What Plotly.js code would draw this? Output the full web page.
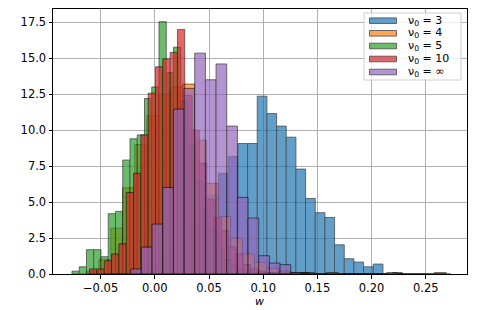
<!DOCTYPE html>
<html>
<head>
<meta charset="utf-8">
<script src="https://cdn.plot.ly/plotly-3.0.1.min.js"></script>
<style>
  html, body { margin: 0; padding: 0; background: #fff; }
  #chart { width: 482px; height: 310px; }
</style>
</head>
<body>
<div id="chart"></div>
<script>
// Series labels
const seriesNames = ['ν<sub>0</sub> = 3', 'ν<sub>0</sub> = 4', 'ν<sub>0</sub> = 5', 'ν<sub>0</sub> = 10', 'ν<sub>0</sub> = ∞'];
const xAxisLabel = '<i>w</i>';

// Histogram bins (30 bins each): first edge and bin width per series
const binStart = [-0.0393, -0.0627, -0.0764, -0.0601, -0.0222];
const binWidth = [0.00892, 0.01105, 0.00669, 0.00675, 0.00984];

// Density heights per bin
const nu3 = [0.1,0.1,0.2,0.4,0.6,1.0,1.6,2.4,3.3,4.5,5.5,7.0,8.17,9.07,9.07,12.36,11.15,10.28,9.51,7.29,5.25,4.26,3.93,2.03,1.06,0.83,0.5,0.69,0,0.1];
const nu4 = [0.2,1.0,3.19,6.0,9.0,11.0,12.5,13.0,13.2,9.3,6.3,4.0,2.5,1.4,0.8,0.4,0.2,0.1,0.1,0,0.1,0,0,0,0,0,0,0,0,0.1];
const nu5 = [0.2,0.5,1.69,1.69,1.2,4.19,4.35,7.92,9.4,9.67,12.2,13.0,17.54,14.0,15.76,12.0,9.0,6.5,4.5,3.0,1.8,1.0,0.6,0.3,0.2,0.1,0.1,0,0,0.1];
const nu10 = [0.35,0.35,0.92,1.39,2.1,5.67,7.0,9.67,12.57,14.4,14.95,15.4,17.0,12.4,10.0,7.7,5.2,3.9,3.0,1.9,1.4,0.65,0.35,0.2,0.1,0.1,0,0,0,0.1];
const nuInf = [0.35,1.87,3.47,6.01,11.46,12.9,15.35,13.5,14.6,10.28,5.32,3.89,1.27,0.76,0.65,0.1,0,0,0,0,0,0,0,0,0.1,0,0,0,0,0];

// Axis ticks
const xTicks = [-0.05, 0.00, 0.05, 0.10, 0.15, 0.20, 0.25];
const yTicks = [0, 2.5, 5, 7.5, 10, 12.5, 15, 17.5];

const heights = [nu3, nu4, nu5, nu10, nuInf];
const colors = ['#1f77b4', '#ff7f0e', '#2ca02c', '#d62728', '#9467bd'];

const W = 482, H = 310;
const M = { l: 53, r: 15, t: 9, b: 36 };
const PW = W - M.l - M.r, PH = H - M.t - M.b;
const px2x = px => (px - M.l) / PW;
const py2y = py => (H - M.b - py) / PH;

const traces = heights.map((h, i) => ({
  type: 'bar',
  name: seriesNames[i],
  x: h.map((_, k) => binStart[i] + binWidth[i] * (k + 0.5)),
  y: h,
  width: binWidth[i],
  marker: { color: colors[i], line: { color: '#000', width: 0.8 } },
  opacity: 0.7,
  hoverinfo: 'skip',
  showlegend: false
}));

// Hand-built legend (matplotlib-style wide patches)
const shapes = [{
  type: 'rect', xref: 'paper', yref: 'paper',
  x0: px2x(364), x1: px2x(461), y0: py2y(80), y1: py2y(13),
  fillcolor: 'rgba(255,255,255,0.8)', line: { color: '#cccccc', width: 1 }, layer: 'above'
}];
const annotations = [];
const rowY = [20.7, 33.3, 46, 59, 72];
seriesNames.forEach((nm, i) => {
  shapes.push({
    type: 'rect', xref: 'paper', yref: 'paper',
    x0: px2x(369.5), x1: px2x(396.5), y0: py2y(rowY[i] + 2.8), y1: py2y(rowY[i] - 2.8),
    fillcolor: colors[i], opacity: 0.7, line: { color: '#000', width: 0.8 }, layer: 'above'
  });
  annotations.push({
    xref: 'paper', yref: 'paper', x: px2x(406), y: py2y(rowY[i]),
    xanchor: 'left', yanchor: 'middle', showarrow: false, text: nm,
    font: { family: 'DejaVu Sans, sans-serif', size: 11, color: '#000' }
  });
});

// x-axis label placed as in the reference
annotations.push({
  xref: 'paper', yref: 'paper', x: px2x(259.5), y: py2y(301),
  xanchor: 'center', yanchor: 'middle', showarrow: false, text: xAxisLabel, borderpad: 0,
  font: { family: 'DejaVu Sans, sans-serif', size: 11, color: '#000' }
});

const font = { family: 'DejaVu Sans, sans-serif', size: 11.5, color: '#000' };

const layout = {
  width: W, height: H,
  margin: M,
  paper_bgcolor: '#fff', plot_bgcolor: '#fff',
  barmode: 'overlay',
  font: font,
  showlegend: false,
  shapes: shapes,
  annotations: annotations,
  xaxis: {
    range: [-0.0939, 0.288],
    tickvals: xTicks, tickformat: '.2f',
    ticks: 'outside', ticklen: 3.5, tickcolor: '#000', tickwidth: 1,
    showline: true, linecolor: '#000', linewidth: 1, mirror: true,
    showgrid: true, gridcolor: '#b0b0b0', gridwidth: 1, zeroline: false
  },
  yaxis: {
    range: [0, 18.42],
    tickvals: yTicks, tickformat: '.1f',
    ticks: 'outside', ticklen: 3.5, tickcolor: '#000', tickwidth: 1,
    showline: true, linecolor: '#000', linewidth: 1, mirror: true,
    showgrid: true, gridcolor: '#b0b0b0', gridwidth: 1, zeroline: false
  }
};

Plotly.newPlot('chart', traces, layout, { staticPlot: true, displayModeBar: false });
</script>
</body>
</html>
